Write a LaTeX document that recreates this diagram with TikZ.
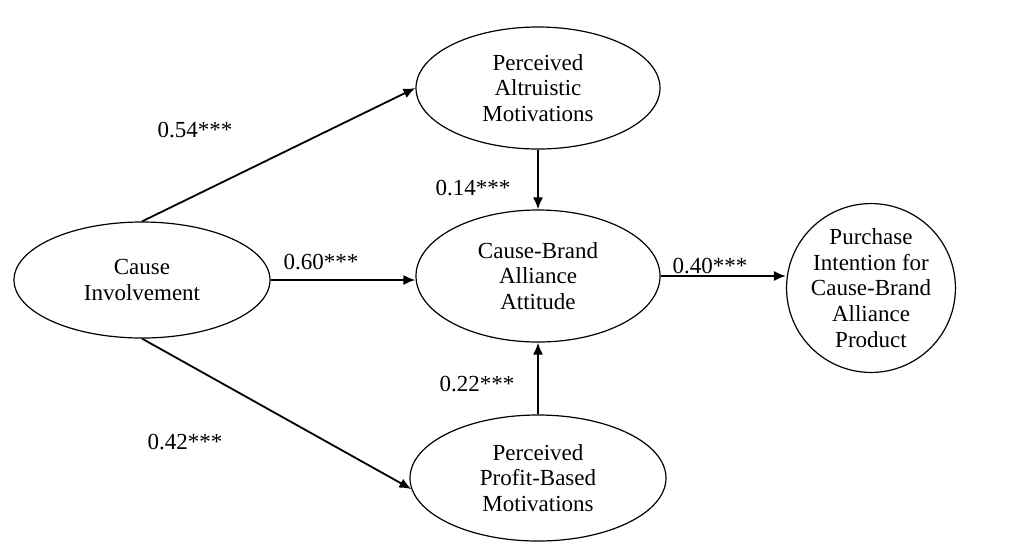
\documentclass[tikz,border=0pt]{standalone}
\usepackage{fontspec}
\setmainfont{Liberation Serif}
\usetikzlibrary{arrows.meta,shapes.geometric,positioning,calc}

\begin{document}
\begin{tikzpicture}[x=0.5pt, y=-0.5pt,
    every node/.style={align=center, font=\fontsize{11.5}{12.8}\selectfont},
    latentVar/.style={
        draw, shape=ellipse, inner sep=0pt, line width=0.6pt
      },
    outcomeVar/.style={
        draw, shape=circle, inner sep=0pt, minimum size=80pt, line width=0.6pt
      },
    pathArrow/.style={draw, -{Latex[length=6pt, width=5pt]}, line width=0.9pt},
    coefLabel/.style={inner sep=1pt}
  ]
  \useasboundingbox (0,0) rectangle (1023,559);

  % Constructs
  \node[latentVar, minimum width=128pt, minimum height=58pt] (CI) at (142,280) {Cause\\Involvement};
  \node[latentVar, minimum width=122pt, minimum height=61pt] (PAM) at (538,88) {Perceived\\Altruistic\\Motivations};
  \node[latentVar, minimum width=122pt, minimum height=66pt] (CBA) at (538,276) {Cause-Brand\\Alliance\\Attitude};
  \node[latentVar, minimum width=128pt, minimum height=63pt] (PBM) at (538,478) {Perceived\\Profit-Based\\Motivations};
  \node[outcomeVar] (PI) at (871,288) {Purchase\\Intention for\\Cause-Brand\\Alliance\\Product};

  % Paths
  \draw[pathArrow] (CI.north) -- (PAM.west);
  \draw[pathArrow] (CI.east) -- (CI.east -| CBA.west);
  \draw[pathArrow] (CI.south) -- (PBM.185);
  \draw[pathArrow] (PAM.south) -- (CBA.north);
  \draw[pathArrow] (PBM.north) -- (CBA.south);
  \draw[pathArrow] (CBA.east) -- (CBA.east -| PI.west);

  % Coefficients
  \node[coefLabel] (L54) at (195,130) {0.54***};
  \node[coefLabel] (L14) at (473,188) {0.14***};
  \node[coefLabel] (L60) at (321,262) {0.60***};
  \node[coefLabel] (L40) at (710,266) {0.40***};
  \node[coefLabel] (L22) at (477,384) {0.22***};
  \node[coefLabel] (L42) at (185,442) {0.42***};
\end{tikzpicture}
\end{document}
